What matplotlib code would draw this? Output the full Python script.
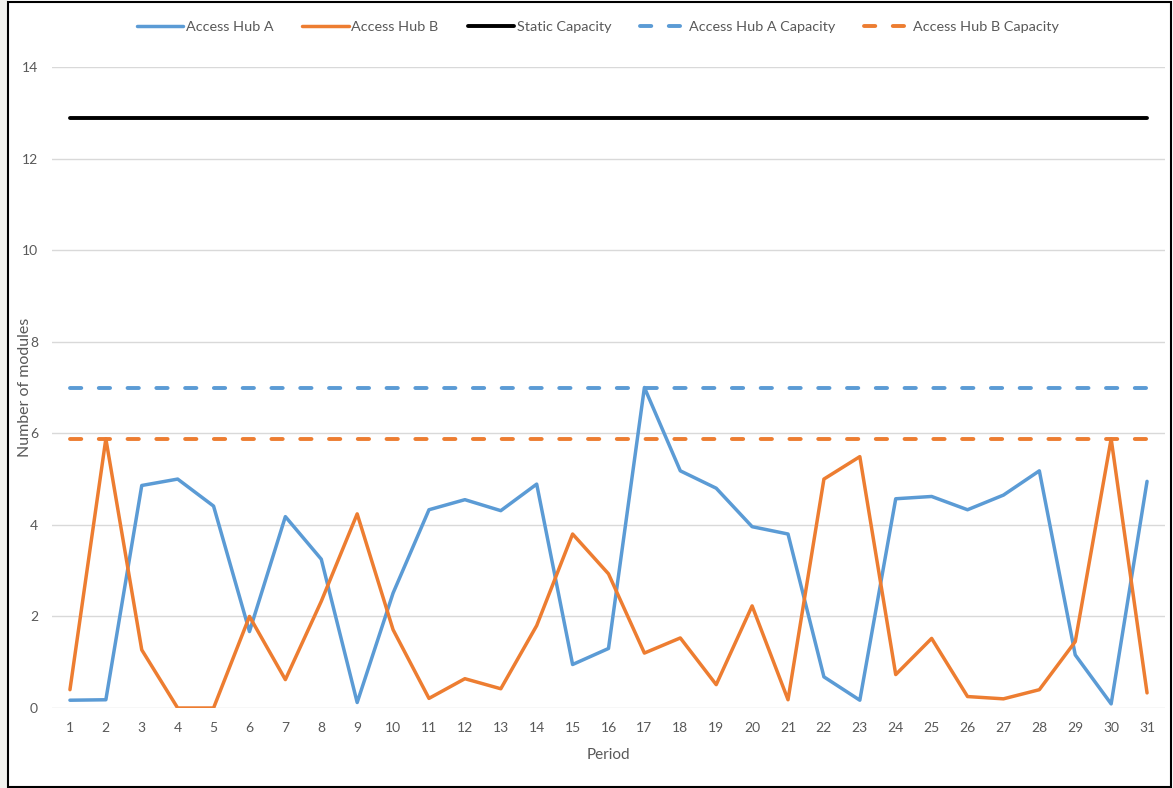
import matplotlib
matplotlib.use("Agg")
import matplotlib.pyplot as plt
from matplotlib.patches import Rectangle

plt.rcParams['font.family'] = ['Lato', 'DejaVu Sans']

periods = list(range(1, 32))
hub_a = [0.17, 0.18, 4.86, 5.00, 4.41, 1.67, 4.18, 3.25, 0.12, 2.51, 4.33,
         4.55, 4.31, 4.89, 0.95, 1.30, 7.00, 5.18, 4.80, 3.96, 3.80,
         0.68, 0.17, 4.57, 4.62, 4.33, 4.65, 5.18, 1.16, 0.09, 4.95]
hub_b = [0.40, 5.88, 1.27, 0.00, 0.00, 2.00, 0.62, 2.33, 4.24, 1.71, 0.21,
         0.64, 0.42, 1.80, 3.80, 2.93, 1.20, 1.53, 0.51, 2.23, 0.18,
         5.00, 5.49, 0.73, 1.52, 0.25, 0.20, 0.40, 1.45, 5.88, 0.33]
static_capacity = [12.88] * 31
hub_a_capacity = [7.00] * 31
hub_b_capacity = [5.88] * 31

BLUE = '#5B9BD5'
ORANGE = '#ED7D31'
TXT = '#595959'

fig = plt.figure(figsize=(11.73, 7.88), dpi=100)
ax = fig.add_axes([52/1173, 1-708/788, (1165-52)/1173, (708-67)/788])

ax.plot(periods, hub_a, color=BLUE, lw=2.5, label='Access Hub A',
        solid_joinstyle='round', solid_capstyle='round')
ax.plot(periods, hub_b, color=ORANGE, lw=2.5, label='Access Hub B',
        solid_joinstyle='round', solid_capstyle='round')
ax.plot(periods, static_capacity, color='black', lw=2.8, label='Static Capacity',
        solid_capstyle='round')
ax.plot(periods, hub_a_capacity, color=BLUE, lw=2.8, ls=(0, (2.9, 4.5)),
        dash_capstyle='round', label='Access Hub A Capacity')
ax.plot(periods, hub_b_capacity, color=ORANGE, lw=2.8, ls=(0, (2.9, 4.5)),
        dash_capstyle='round', label='Access Hub B Capacity')

ax.set_xlim(0.5, 31.5)
ax.set_ylim(0, 14)
ax.set_yticks(range(0, 15, 2))
ax.set_xticks(periods)
ax.grid(axis='y', color='#D9D9D9', lw=1)
ax.set_axisbelow(True)
for s in ax.spines.values():
    s.set_visible(False)
ax.tick_params(length=0, labelsize=10, colors=TXT, pad=10)
ax.tick_params(axis='y', pad=10)
ax.set_xlabel('Period', fontsize=11, color=TXT, labelpad=10)
ax.set_ylabel('Number of modules', fontsize=11.5, color=TXT)
ax.yaxis.set_label_coords((32 - 52) / 1113, 0.5)

fig.legend(loc='center', bbox_to_anchor=(598/1173, 1-27/788), ncol=5, frameon=False,
           fontsize=10.4, labelcolor=TXT, handlelength=3.2, handletextpad=0.2,
           columnspacing=2.0)

fig.patches.append(Rectangle((0, 0), 8/1173, 1, transform=fig.transFigure,
                             facecolor='#F2F2EE', edgecolor='none', zorder=-1))
fig.patches.append(Rectangle((8/1173, 1/788), 1163/1173, 785/788, transform=fig.transFigure,
                             facecolor='none', edgecolor='black', lw=1.5))

fig.savefig('out.png', dpi=100)
